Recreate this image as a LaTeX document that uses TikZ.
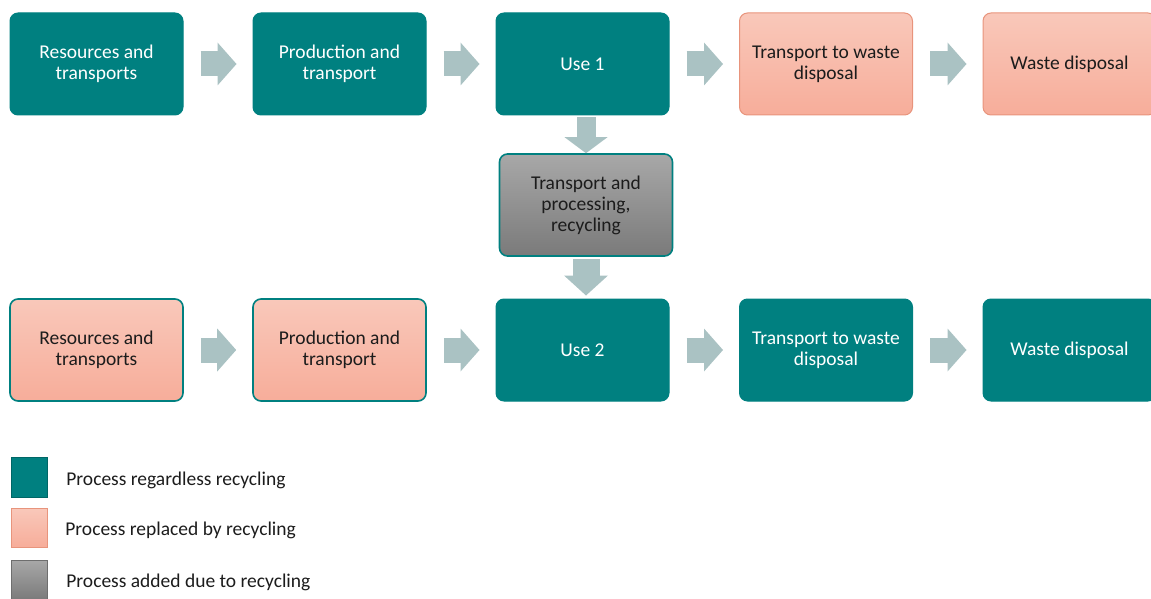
\documentclass[tikz,border=0pt]{standalone}
\usepackage{fontspec}
\setmainfont{Carlito}
\usetikzlibrary{positioning,arrows.meta}
\definecolor{tealbox}{RGB}{0,128,128}
\definecolor{tealdark}{RGB}{0,102,102}
\definecolor{pinktop}{RGB}{249,200,186}
\definecolor{pinkbot}{RGB}{247,173,154}
\definecolor{pinkline}{RGB}{232,148,124}
\definecolor{graytop}{RGB}{168,168,168}
\definecolor{graybot}{RGB}{122,122,122}
\definecolor{grayline}{RGB}{110,110,110}
\definecolor{arrowgray}{RGB}{170,194,195}
\definecolor{textdark}{RGB}{28,28,28}

\begin{document}
\begin{tikzpicture}[node distance=243pt, thick,
    main node/.style={rectangle, rounded corners=8pt, minimum width=173pt, minimum height=102pt, align=center, font=\fontsize{19.5}{21}\selectfont, line width=1pt},
    keep node/.style={main node, fill=tealbox, draw=tealbox, text=white},
    drop node/.style={main node, top color=pinktop, bottom color=pinkbot, draw=pinkline, text=textdark},
    drop keep node/.style={drop node, draw=tealbox, line width=1.6pt},
    added node/.style={main node, top color=graytop, bottom color=graybot, draw=tealbox, line width=1.6pt, text=textdark},
    block/.style={color=arrowgray, line width=25pt, -{Triangle[length=19pt,width=43pt,line width=0pt]}, shorten <=17pt, shorten >=16pt},
    legend box/.style={rectangle, minimum width=36pt, minimum height=40pt, line width=1pt},
    legend text/.style={anchor=west, inner sep=0pt, text=textdark, font=\fontsize{19.5}{21}\selectfont}]
                \useasboundingbox (0,0) rectangle (1151pt,-599pt);

                \node [keep node](1) at (96.5pt,-64pt){Resources and\\transports};
                \node [keep node](2) [right of=1]{Production and\\transport};
                \node [keep node](3) [right of=2]{Use 1};
                \node [drop node](4) [right of=3, xshift=0.5pt]{Transport to waste\\disposal};
                \node [drop node](5) [right of=4, xshift=0.5pt]{Waste disposal};

                \node [drop keep node](6) [below of=1, yshift=-43pt]{Resources and\\transports};
                \node [drop keep node](7) [right of=6]{Production and\\transport};
                \node [keep node](8) [right of=7]{Use 2};
                \node [keep node](9) [right of=8, xshift=0.5pt]{Transport to waste\\disposal};
                \node [keep node](10) [right of=9, xshift=0.5pt]{Waste disposal};

                \node [added node](11) [below of=3, yshift=102pt, xshift=3.5pt]{Transport and\\processing,\\recycling};

                % legend
                \node [legend box, fill=tealbox, draw=tealdark](12) at (29pt,-477pt){};
                \node [legend box, top color=pinktop, bottom color=pinkbot, draw=pinkline, minimum height=39pt](13) at (29pt,-527.5pt){};
                \node [legend box, top color=graytop, bottom color=graybot, draw=grayline](14) at (29pt,-580pt){};
                \node [legend text](15) at (66pt,-480pt){Process regardless recycling};
                \node [legend text](16) at (65pt,-530pt){Process replaced by recycling};
                \node [legend text](17) at (66pt,-582pt){Process added due to recycling};

                \path[block]
                    (1) edge (2)
                    (2) edge (3)
                    (3) edge (4)
                    (4) edge (5)

                    (6) edge (7)
                    (7) edge (8)
                    (8) edge (9)
                    (9) edge (10)
                    ;
                \path[block, shorten <=2pt]
                    (11.north |- 3.south) edge [line width=19pt, shorten >=0pt, -{Triangle[length=16pt,width=43pt,line width=0pt]}] (11)
                    (11) edge [line width=27pt, shorten >=3pt, -{Triangle[length=20pt,width=44pt,line width=0pt]}] (11.south |- 8.north)
                    ;
            \end{tikzpicture}
\end{document}
